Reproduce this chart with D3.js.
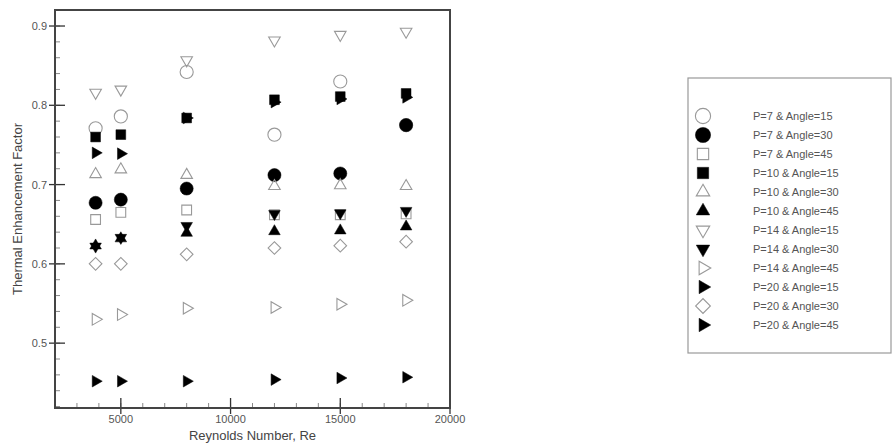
<!DOCTYPE html>
<html>
<head>
<meta charset="utf-8">
<script src="https://cdn.jsdelivr.net/npm/d3@7"></script>
<style>
  body { margin: 0; background: #fff; }
  text { font-family: "Liberation Sans", Arial, sans-serif; }
</style>
</head>
<body>
<div id="chart"></div>
<script>

// Reynolds numbers (x) and series values
var reValues = [3850, 5000, 8000, 12000, 15000, 18000]
var seriesNames = ["P=7 & Angle=15", "P=7 & Angle=30", "P=7 & Angle=45",
  "P=10 & Angle=15", "P=10 & Angle=30", "P=10 & Angle=45",
  "P=14 & Angle=15", "P=14 & Angle=30", "P=14 & Angle=45",
  "P=20 & Angle=15", "P=20 & Angle=30", "P=20 & Angle=45"]

var p7a15  = [0.771, 0.786, 0.842, 0.763, 0.830, 0.775]
var p7a30  = [0.677, 0.681, 0.695, 0.712, 0.714, 0.775]
var p7a45  = [0.656, 0.665, 0.668, 0.662, 0.662, 0.663]
var p10a15 = [0.760, 0.763, 0.784, 0.807, 0.811, 0.815]
var p10a30 = [0.713, 0.719, 0.712, 0.698, 0.699, 0.698]
var p10a45 = [0.623, 0.632, 0.639, 0.641, 0.642, 0.647]
var p14a15 = [0.816, 0.820, 0.857, 0.882, 0.889, 0.893]
var p14a30 = [0.622, 0.633, 0.648, 0.663, 0.664, 0.667]
var p14a45 = [0.530, 0.536, 0.544, 0.545, 0.549, 0.554]
var p20a15 = [0.740, 0.739, 0.784, 0.804, 0.808, 0.810]
var p20a30 = [0.600, 0.600, 0.612, 0.620, 0.623, 0.628]
var p20a45 = [0.452, 0.452, 0.452, 0.454, 0.456, 0.457]

var allSeries = [p7a15, p7a30, p7a45, p10a15, p10a30, p10a45,
  p14a15, p14a30, p14a45, p20a15, p20a30, p20a45]

// marker shape per series: [symbol, rotation, filled]
var markers = [
  [d3.symbolCircle, 0, false], [d3.symbolCircle, 0, true], [d3.symbolSquare, 0, false],
  [d3.symbolSquare, 0, true], [d3.symbolTriangle, 0, false], [d3.symbolTriangle, 0, true],
  [d3.symbolTriangle, 180, false], [d3.symbolTriangle, 180, true], [d3.symbolTriangle, 90, false],
  [d3.symbolTriangle, 90, true], [d3.symbolSquare, 45, false], [d3.symbolTriangle, 90, true]
]
var xTicks = [5000, 10000, 15000, 20000]
var yTicks = [0.5, 0.6, 0.7, 0.8, 0.9]

// set the dimensions and margins of the graph
var margin = {top: 10, left: 55},
  width = 395,
  height = 398;

var svg = d3.select("#chart")
  .append("svg")
  .attr("width", 893)
  .attr("height", 447)

var g = svg.append("g")
  .attr("transform", "translate(" + margin.left + "," + margin.top + ")");

var x = d3.scaleLinear().domain([2000, 20000]).range([0, width])
var y = d3.scaleLinear().domain([0.4182, 0.9202]).range([height, 0])

// minor ticks (inward)
g.selectAll(".xminor")
  .data(d3.range(3000, 20000, 1000))
  .enter().append("line")
  .attr("x1", function(d) { return x(d) }).attr("x2", function(d) { return x(d) })
  .attr("y1", height).attr("y2", height - 5)
  .style("stroke", "#888").style("stroke-width", 1)
g.selectAll(".yminor")
  .data(d3.range(0.42, 0.92, 0.02))
  .enter().append("line")
  .attr("y1", function(d) { return y(d) }).attr("y2", function(d) { return y(d) })
  .attr("x1", 0).attr("x2", 5)
  .style("stroke", "#888").style("stroke-width", 1)

// major ticks crossing the axis
g.selectAll(".xmajor")
  .data(xTicks)
  .enter().append("line")
  .attr("x1", function(d) { return x(d) }).attr("x2", function(d) { return x(d) })
  .attr("y1", height + 6).attr("y2", height - 10)
  .style("stroke", "#333").style("stroke-width", 1.3)
g.selectAll(".ymajor")
  .data(yTicks)
  .enter().append("line")
  .attr("y1", function(d) { return y(d) }).attr("y2", function(d) { return y(d) })
  .attr("x1", -6).attr("x2", 10)
  .style("stroke", "#333").style("stroke-width", 1.3)

// tick labels
g.selectAll(".xlab")
  .data(xTicks)
  .enter().append("text")
  .attr("x", function(d) { return x(d) })
  .attr("y", height + 15)
  .attr("text-anchor", "middle")
  .style("font-size", "11px").style("fill", "#555")
  .text(function(d) { return d })
g.selectAll(".ylab")
  .data(yTicks)
  .enter().append("text")
  .attr("x", -8)
  .attr("y", function(d) { return y(d) + 4 })
  .attr("text-anchor", "end")
  .style("font-size", "11px").style("fill", "#555")
  .text(function(d) { return d.toFixed(1) })

// frame
g.append("rect")
  .attr("width", width).attr("height", height)
  .style("fill", "none").style("stroke", "#444").style("stroke-width", 2)

// axis titles
svg.append("text")
  .attr("x", margin.left + width / 2)
  .attr("y", 440)
  .attr("text-anchor", "middle")
  .style("font-size", "13px").style("fill", "#444")
  .text("Reynolds Number, Re")
svg.append("text")
  .attr("transform", "translate(22," + (margin.top + height / 2) + ") rotate(-90)")
  .attr("text-anchor", "middle")
  .style("font-size", "13px").style("fill", "#444")
  .text("Thermal Enhancement Factor")

function markerPath(m, big) {
  var size = m[0] === d3.symbolCircle ? 135 : (m[0] === d3.symbolSquare ? (m[1] ? 80 : 95) : 58)
  if (big) size = size * 1.35
  return d3.symbol().type(m[0]).size(size)()
}

// points
allSeries.forEach(function(vals, i) {
  var m = markers[i]
  g.selectAll(".s" + i)
    .data(vals)
    .enter().append("path")
    .attr("d", markerPath(m, false))
    .attr("transform", function(d, j) {
      return "translate(" + x(reValues[j]) + "," + y(d) + ") rotate(" + m[1] + ")"
    })
    .style("fill", m[2] ? "#000" : "none")
    .style("stroke", m[2] ? "#000" : "#999")
    .style("stroke-width", m[2] ? 0.5 : 1.1)
})

// legend
var legend = svg.append("g")
legend.append("rect")
  .attr("x", 688).attr("y", 78).attr("width", 203).attr("height", 275)
  .style("fill", "#fff").style("stroke", "#999").style("stroke-width", 1.2)

seriesNames.forEach(function(name, i) {
  var m = markers[i]
  var yy = 116 + i * 19
  legend.append("path")
    .attr("d", markerPath(m, true))
    .attr("transform", "translate(703," + yy + ") rotate(" + m[1] + ")")
    .style("fill", m[2] ? "#000" : "none")
    .style("stroke", m[2] ? "#000" : "#999")
    .style("stroke-width", m[2] ? 0.5 : 1.1)
  legend.append("text")
    .attr("x", 753).attr("y", yy + 4)
    .style("font-size", "11px").style("fill", "#555")
    .text(name)
})

</script>
</body>
</html>
